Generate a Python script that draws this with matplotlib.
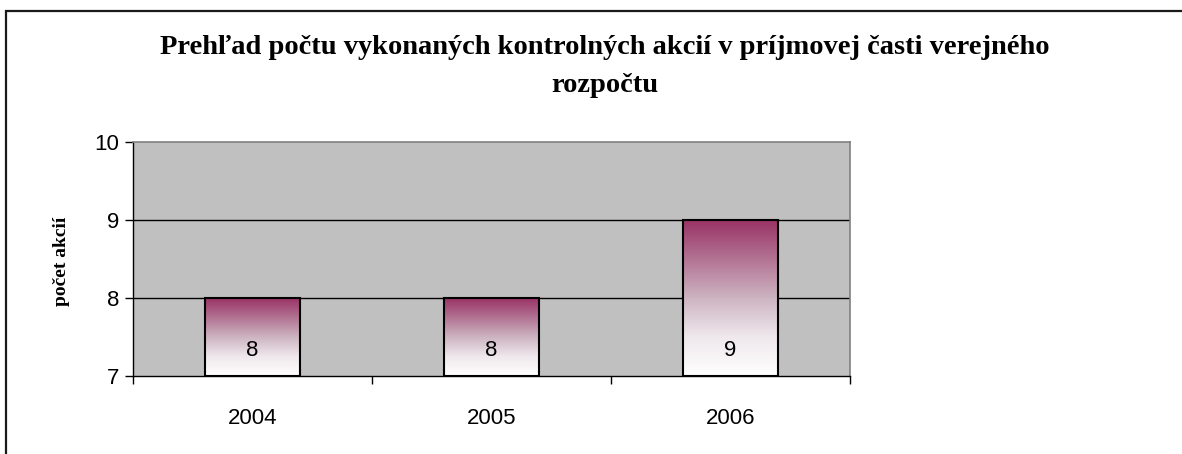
import matplotlib
matplotlib.use("Agg")
import matplotlib.pyplot as plt
import numpy as np
from matplotlib.colors import LinearSegmentedColormap
from matplotlib.patches import Rectangle

categories = ["2004", "2005", "2006"]
values = [8, 8, 9]
y_ticks = [7, 8, 9, 10]
title_lines = ["Prehľad počtu vykonaných kontrolných akcií v príjmovej časti verejného", "rozpočtu"]
ylabel = "počet akcií"

W, H = 1182, 454
fig = plt.figure(figsize=(W / 100, H / 100), dpi=100)
fig.patch.set_facecolor("white")

# outer frame (only top/left visible in the reference)
fig.add_artist(Rectangle((6 / W, -0.5), 2.0, 1 - 10.5 / H + 0.5,
                         transform=fig.transFigure, fill=False,
                         edgecolor="#1a1a1a", linewidth=1.6))

ax = fig.add_axes([133 / W, 1 - 376 / H, (850 - 133) / W, (376 - 142) / H])
ax.set_facecolor("#C0C0C0")
ymin, ymax = 7, 10

for y in y_ticks[1:-1]:
    ax.axhline(y, color="black", linewidth=1.0, zorder=1)

cmap = LinearSegmentedColormap.from_list(
    "grad", [(0.0, "#ffffff"), (0.25, "#efe8ec"), (0.5, "#cdb4c1"), (1.0, "#993366")])
grad = np.linspace(0, 1, 256).reshape(-1, 1)
bw = 0.4
x = np.arange(len(categories))
bars = ax.bar(x, [v - ymin for v in values], bottom=ymin, width=bw,
              facecolor="none", edgecolor="black", linewidth=1.5, zorder=3)
for b, v in zip(bars, values):
    x0 = b.get_x()
    ax.imshow(grad, extent=[x0, x0 + bw, ymin, v], origin="lower", cmap=cmap,
              aspect="auto", zorder=2, interpolation="bilinear")
    ax.text(x0 + bw / 2, ymin + 0.33, str(v), ha="center", va="center",
            fontsize=16, family="Liberation Sans", zorder=4)
ax.set_xlim(-0.5, len(categories) - 0.5)
ax.set_ylim(ymin, ymax)

ax.set_yticks(y_ticks)
ax.set_yticklabels([str(t) for t in y_ticks], fontsize=16, family="Liberation Sans")
ax.set_xticks(x)
ax.set_xticklabels(categories, fontsize=16, family="Liberation Sans")
ax.tick_params(axis="x", which="major", length=0, pad=23)
ax.set_xticks(np.arange(-0.5, len(categories), 1.0), minor=True)
ax.tick_params(axis="x", which="minor", length=6, width=1, direction="out")
ax.tick_params(axis="y", length=6, width=1, direction="out", pad=4)

for side in ["top", "right"]:
    ax.spines[side].set_color("#808080")
    ax.spines[side].set_linewidth(1.2)
for side in ["left", "bottom"]:
    ax.spines[side].set_color("black")
    ax.spines[side].set_linewidth(1.0)

fig.text(62 / W, 1 - 261 / H, ylabel, rotation=90, ha="center", va="center",
         fontsize=14, family="Liberation Serif", fontweight="bold")

fig.text(605 / W, 1 - 47 / H, title_lines[0], ha="center", va="center",
         fontsize=20.5, family="Liberation Serif", fontweight="bold")
fig.text(605 / W, 1 - 85 / H, title_lines[1], ha="center", va="center",
         fontsize=20.5, family="Liberation Serif", fontweight="bold")

fig.savefig("out.png", dpi=100)
